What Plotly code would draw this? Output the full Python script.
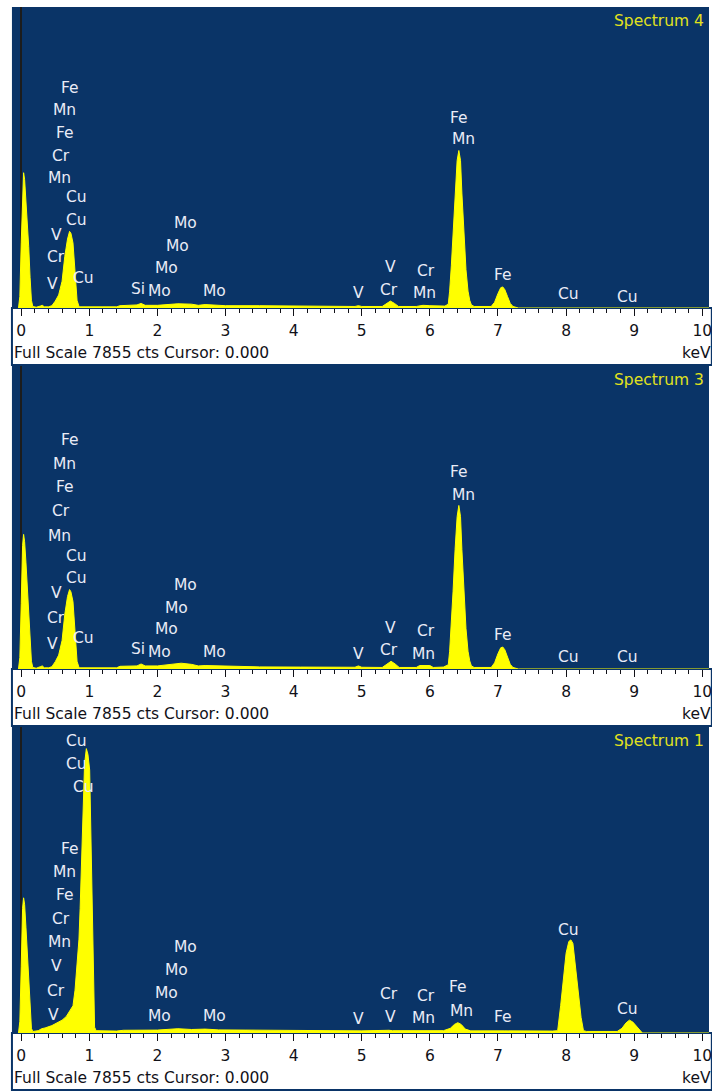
import plotly.graph_objects as go

# ---------------- data ----------------
FULL_SCALE = 7855
SPECTRUM_NAMES = ["Spectrum 4", "Spectrum 3", "Spectrum 1"]
TICK_VALUES = [0, 1, 2, 3, 4, 5, 6, 7, 8, 9, 10]
TICK_TEXT = ["0", "1", "2", "3", "4", "5", "6", "7", "8", "9", "10"]

# Spectrum 4 (keV, counts)
ENERGY_4 = [-0.04, -0.02, 0.00, 0.02, 0.035, 0.05, 0.07, 0.09, 0.11, 0.13, 0.15, 0.17, 0.22, 0.28, 0.31, 0.34,
            0.40, 0.45, 0.50, 0.55, 0.60, 0.64, 0.68, 0.71, 0.73, 0.76, 0.79, 0.82, 0.85, 1.00, 1.40, 1.45,
            1.70, 1.76, 1.82, 2.00, 2.20, 2.30, 2.50, 2.60, 2.70, 2.90, 3.00, 3.50, 4.00, 4.50, 4.90, 4.95,
            5.00, 5.30, 5.36, 5.42, 5.48, 5.54, 5.80, 5.90, 6.00, 6.15, 6.22, 6.27, 6.29, 6.315, 6.34, 6.37,
            6.40, 6.425, 6.45, 6.47, 6.50, 6.53, 6.56, 6.585, 6.61, 6.65, 6.90, 6.95, 7.00, 7.04, 7.07, 7.10,
            7.14, 7.18, 7.22, 7.28, 7.30, 10.10]
COUNTS_4 = [0, 300, 1700, 3200, 3530, 3350, 2800, 2200, 1600, 800, 200, 40, 20, 50, 70, 30,
            30, 60, 180, 340, 700, 1350, 1800, 2000, 1950, 1700, 900, 200, 30, 25, 30, 60,
            80, 120, 70, 70, 90, 110, 100, 70, 90, 80, 60, 60, 55, 45, 40, 60,
            40, 40, 110, 180, 120, 40, 40, 70, 60, 40, 50, 100, 440, 1100, 1930, 3000,
            3850, 4110, 3850, 3000, 1930, 1000, 440, 200, 80, 40, 40, 150, 380, 530, 550, 480,
            300, 120, 40, 20, 0, 0]

# Spectrum 3
ENERGY_3 = [-0.04, -0.02, 0.00, 0.02, 0.035, 0.05, 0.07, 0.09, 0.11, 0.13, 0.15, 0.17, 0.22, 0.28, 0.31, 0.34,
            0.40, 0.45, 0.50, 0.55, 0.60, 0.64, 0.68, 0.71, 0.73, 0.76, 0.79, 0.82, 0.85, 1.00, 1.40, 1.45,
            1.70, 1.76, 1.82, 2.00, 2.20, 2.35, 2.50, 2.60, 2.70, 2.90, 3.20, 3.50, 4.10, 4.50, 4.90, 4.95,
            5.00, 5.30, 5.36, 5.43, 5.49, 5.55, 5.80, 5.85, 6.00, 6.05, 6.20, 6.27, 6.29, 6.315, 6.34, 6.37,
            6.40, 6.425, 6.45, 6.47, 6.50, 6.53, 6.56, 6.585, 6.61, 6.65, 6.90, 6.95, 7.00, 7.04, 7.07, 7.10,
            7.14, 7.18, 7.22, 7.28, 7.30, 10.10]
COUNTS_3 = [0, 300, 1700, 3200, 3490, 3300, 2750, 2150, 1550, 800, 200, 40, 20, 60, 80, 30,
            30, 60, 190, 360, 740, 1420, 1880, 2060, 2000, 1750, 900, 200, 30, 25, 30, 70,
            80, 130, 80, 80, 130, 150, 120, 80, 90, 80, 60, 55, 50, 45, 45, 80,
            45, 40, 120, 200, 130, 40, 40, 90, 90, 40, 50, 110, 460, 1150, 2000, 3100,
            3950, 4240, 3950, 3100, 2000, 1050, 460, 210, 80, 40, 40, 160, 400, 550, 570, 500,
            310, 120, 40, 20, 0, 0]

# Spectrum 1
ENERGY_1 = [-0.04, -0.02, 0.00, 0.02, 0.035, 0.05, 0.07, 0.09, 0.11, 0.13, 0.15, 0.17, 0.25, 0.30, 0.35, 0.45,
            0.52, 0.60, 0.66, 0.72, 0.76, 0.79, 0.81, 0.83, 0.848, 0.865, 0.883, 0.906, 0.93, 0.956, 0.98, 1.005,
            1.017, 1.029, 1.041, 1.053, 1.065, 1.077, 1.10, 1.40, 1.50, 2.00, 2.30, 2.50, 2.70, 2.90, 3.30, 4.00,
            4.50, 5.00, 5.40, 5.45, 6.20, 6.30, 6.36, 6.41, 6.46, 6.52, 6.60, 7.06, 7.10, 7.80, 7.876, 7.92,
            7.96, 8.00, 8.04, 8.07, 8.10, 8.14, 8.18, 8.22, 8.255, 8.30, 8.75, 8.82, 8.88, 8.93, 8.98, 9.04,
            9.10, 9.12, 10.10]
COUNTS_1 = [0, 300, 1700, 3200, 3470, 3300, 2700, 2000, 1300, 500, 120, 40, 60, 110, 130, 190,
            250, 330, 420, 580, 700, 1100, 1550, 1950, 2410, 3200, 4150, 5880, 6900, 7300, 7150, 6750,
            5500, 4150, 2800, 1550, 700, 150, 60, 50, 70, 75, 110, 90, 100, 80, 75, 65,
            60, 55, 70, 60, 60, 120, 220, 265, 220, 100, 55, 70, 55, 50, 60, 700,
            1400, 2050, 2350, 2390, 2300, 1700, 1000, 400, 60, 40, 40, 120, 260, 330, 280, 150,
            40, 0, 0]

# peak labels: text, energy (keV), label height (counts)
LABEL_TEXT_4 = ["Fe", "Mn", "Fe", "Cr", "Mn", "Cu", "Cu", "V", "Cr", "V", "Cu", "Si", "Mo", "Mo", "Mo", "Mo",
                "Mo", "V", "V", "Cr", "Cr", "Mn", "Fe", "Mn", "Fe", "Cu", "Cu"]
LABEL_KEV_4 = [0.712, 0.639, 0.639, 0.580, 0.566, 0.814, 0.814, 0.522, 0.507, 0.463, 0.917, 1.721, 2.028, 2.130,
               2.291, 2.408, 2.832, 4.952, 5.420, 5.405, 5.946, 5.917, 6.428, 6.487, 7.072, 8.036, 8.899]
LABEL_CTS_4 = [5746, 5174, 4576, 3978, 3380, 2886, 2288, 1898, 1326, 624, 780, 494, 442, 1040,
               1612, 2210, 442, 390, 1066, 468, 962, 390, 4966, 4420, 858, 364, 286]

LABEL_TEXT_3 = ["Fe", "Mn", "Fe", "Cr", "Mn", "Cu", "Cu", "V", "Cr", "V", "Cu", "Si", "Mo", "Mo", "Mo", "Mo",
                "Mo", "V", "V", "Cr", "Cr", "Mn", "Fe", "Mn", "Fe", "Cu", "Cu"]
LABEL_KEV_3 = [0.712, 0.639, 0.639, 0.580, 0.566, 0.814, 0.814, 0.512, 0.507, 0.463, 0.917, 1.721, 2.028, 2.126,
               2.286, 2.408, 2.832, 4.952, 5.424, 5.400, 5.950, 5.910, 6.428, 6.487, 7.072, 8.036, 8.899]
LABEL_CTS_3 = [5930, 5310, 4720, 4090, 3450, 2930, 2350, 1980, 1330, 660, 810, 530, 430, 1050,
               1590, 2170, 430, 400, 1070, 480, 980, 390, 5100, 4510, 870, 300, 300]

LABEL_TEXT_1 = ["Cu", "Cu", "Cu", "Fe", "Mn", "Fe", "Cr", "Mn", "V", "Cr", "V", "Mo", "Mo", "Mo", "Mo", "Mo",
                "V", "Cr", "V", "Cr", "Mn", "Fe", "Mn", "Fe", "Cu", "Cu"]
LABEL_KEV_1 = [0.819, 0.810, 0.917, 0.712, 0.639, 0.639, 0.580, 0.566, 0.517, 0.507, 0.468, 2.408, 2.286, 2.126,
               2.028, 2.832, 4.952, 5.400, 5.424, 5.950, 5.910, 6.414, 6.470, 7.070, 8.036, 8.900]
LABEL_CTS_1 = [7506, 6900, 6310, 4732, 4126, 3554, 2930, 2324, 1716, 1066, 460, 2220, 1630, 1024,
               434, 434, 356, 998, 416, 962, 374, 1170, 564, 416, 2652, 616]

# ---------------- layout / style ----------------
W, H = 712, 1092
BLUE = "#0a3467"
YELLOW = "#ffff00"
LABEL_COLOR = "#e9ebf6"
TITLE_COLOR = "#e2e21c"
INK = "#111118"
FONT = "DejaVu Sans"
FS = 15.5

PANEL_TOP = [7, 366, 727]
PANEL_BASE = [308, 669, 1033]
STRIP_BOTTOM = [365, 726, 1090]
PLOT_LEFT = 12
X_RANGE = [-0.136, 10.098]

panels = [
    (ENERGY_4, COUNTS_4, LABEL_TEXT_4, LABEL_KEV_4, LABEL_CTS_4),
    (ENERGY_3, COUNTS_3, LABEL_TEXT_3, LABEL_KEV_3, LABEL_CTS_3),
    (ENERGY_1, COUNTS_1, LABEL_TEXT_1, LABEL_KEV_1, LABEL_CTS_1),
]

fig = go.Figure()
annotations = []
shapes = []
layout = {}


def py(px):
    return (H - px) / H


for i, (en, ct, ltxt, lkev, lcts) in enumerate(panels):
    xa = "x" if i == 0 else f"x{i + 1}"
    ya = "y" if i == 0 else f"y{i + 1}"
    xkey = "xaxis" if i == 0 else f"xaxis{i + 1}"
    ykey = "yaxis" if i == 0 else f"yaxis{i + 1}"

    fig.add_trace(go.Scatter(
        x=en, y=ct, xaxis=xa, yaxis=ya, mode="lines",
        fill="tozeroy", fillcolor=YELLOW,
        line=dict(color=YELLOW, width=1),
        hoverinfo="skip", showlegend=False,
    ))

    layout[xkey] = dict(
        domain=[PLOT_LEFT / W, 1], anchor=ya, range=X_RANGE,
        showgrid=False, showline=False,
        zeroline=True, zerolinecolor="#1c1c1c", zerolinewidth=1.5,
        layer="above traces",
        tickmode="array", tickvals=TICK_VALUES, ticktext=TICK_TEXT,
        ticks="outside", ticklen=7, tickwidth=1, tickcolor=INK,
        minor=dict(dtick=0.2, tick0=0, ticks="outside", ticklen=4, tickwidth=1,
                   tickcolor=INK, showgrid=False),
        tickfont=dict(family=FONT, size=FS, color=INK),
        ticklabelstandoff=1, ticklabeloverflow="allow",
        fixedrange=True,
    )
    layout[ykey] = dict(
        domain=[py(PANEL_BASE[i]), py(PANEL_TOP[i])], anchor=xa,
        range=[0, FULL_SCALE], visible=False, showgrid=False, zeroline=False,
        fixedrange=True,
    )

    # white strip with thin blue frame under each spectrum
    shapes.append(dict(type="rect", xref="paper", yref="paper", layer="below",
                       x0=PLOT_LEFT / W, x1=1.004, y0=py(STRIP_BOTTOM[i]), y1=py(PANEL_BASE[i]),
                       fillcolor="white", line=dict(color=BLUE, width=2)))

    for t, e, c in zip(ltxt, lkev, lcts):
        annotations.append(dict(x=e, y=c, xref=xa, yref=ya, text=t, showarrow=False,
                                xanchor="center", yanchor="middle",
                                font=dict(family=FONT, size=FS, color=LABEL_COLOR)))

    annotations.append(dict(x=(W - 3) / W, y=py(PANEL_TOP[i] + 14), xref="paper", yref="paper",
                            text=SPECTRUM_NAMES[i], showarrow=False, xanchor="right", yanchor="middle",
                            font=dict(family=FONT, size=FS, color=TITLE_COLOR)))
    annotations.append(dict(x=PLOT_LEFT / W, y=py(PANEL_BASE[i] + 45), xref="paper", yref="paper",
                            text=f"Full Scale {FULL_SCALE} cts Cursor: 0.000", showarrow=False,
                            xanchor="left", yanchor="middle",
                            font=dict(family=FONT, size=FS, color=INK)))
    annotations.append(dict(x=(W + 4) / W, y=py(PANEL_BASE[i] + 45), xref="paper", yref="paper",
                            text="keV", showarrow=False, xanchor="right", yanchor="middle",
                            font=dict(family=FONT, size=FS, color=INK)))

fig.update_layout(
    width=W, height=H,
    margin=dict(l=0, r=0, t=0, b=0, pad=0),
    paper_bgcolor="white", plot_bgcolor=BLUE,
    showlegend=False,
    annotations=annotations, shapes=shapes,
    **layout,
)

fig.write_html(
    "out.html",
    config={"displayModeBar": False},
    post_script="document.body.style.margin='0';document.body.style.overflow='hidden';",
)
